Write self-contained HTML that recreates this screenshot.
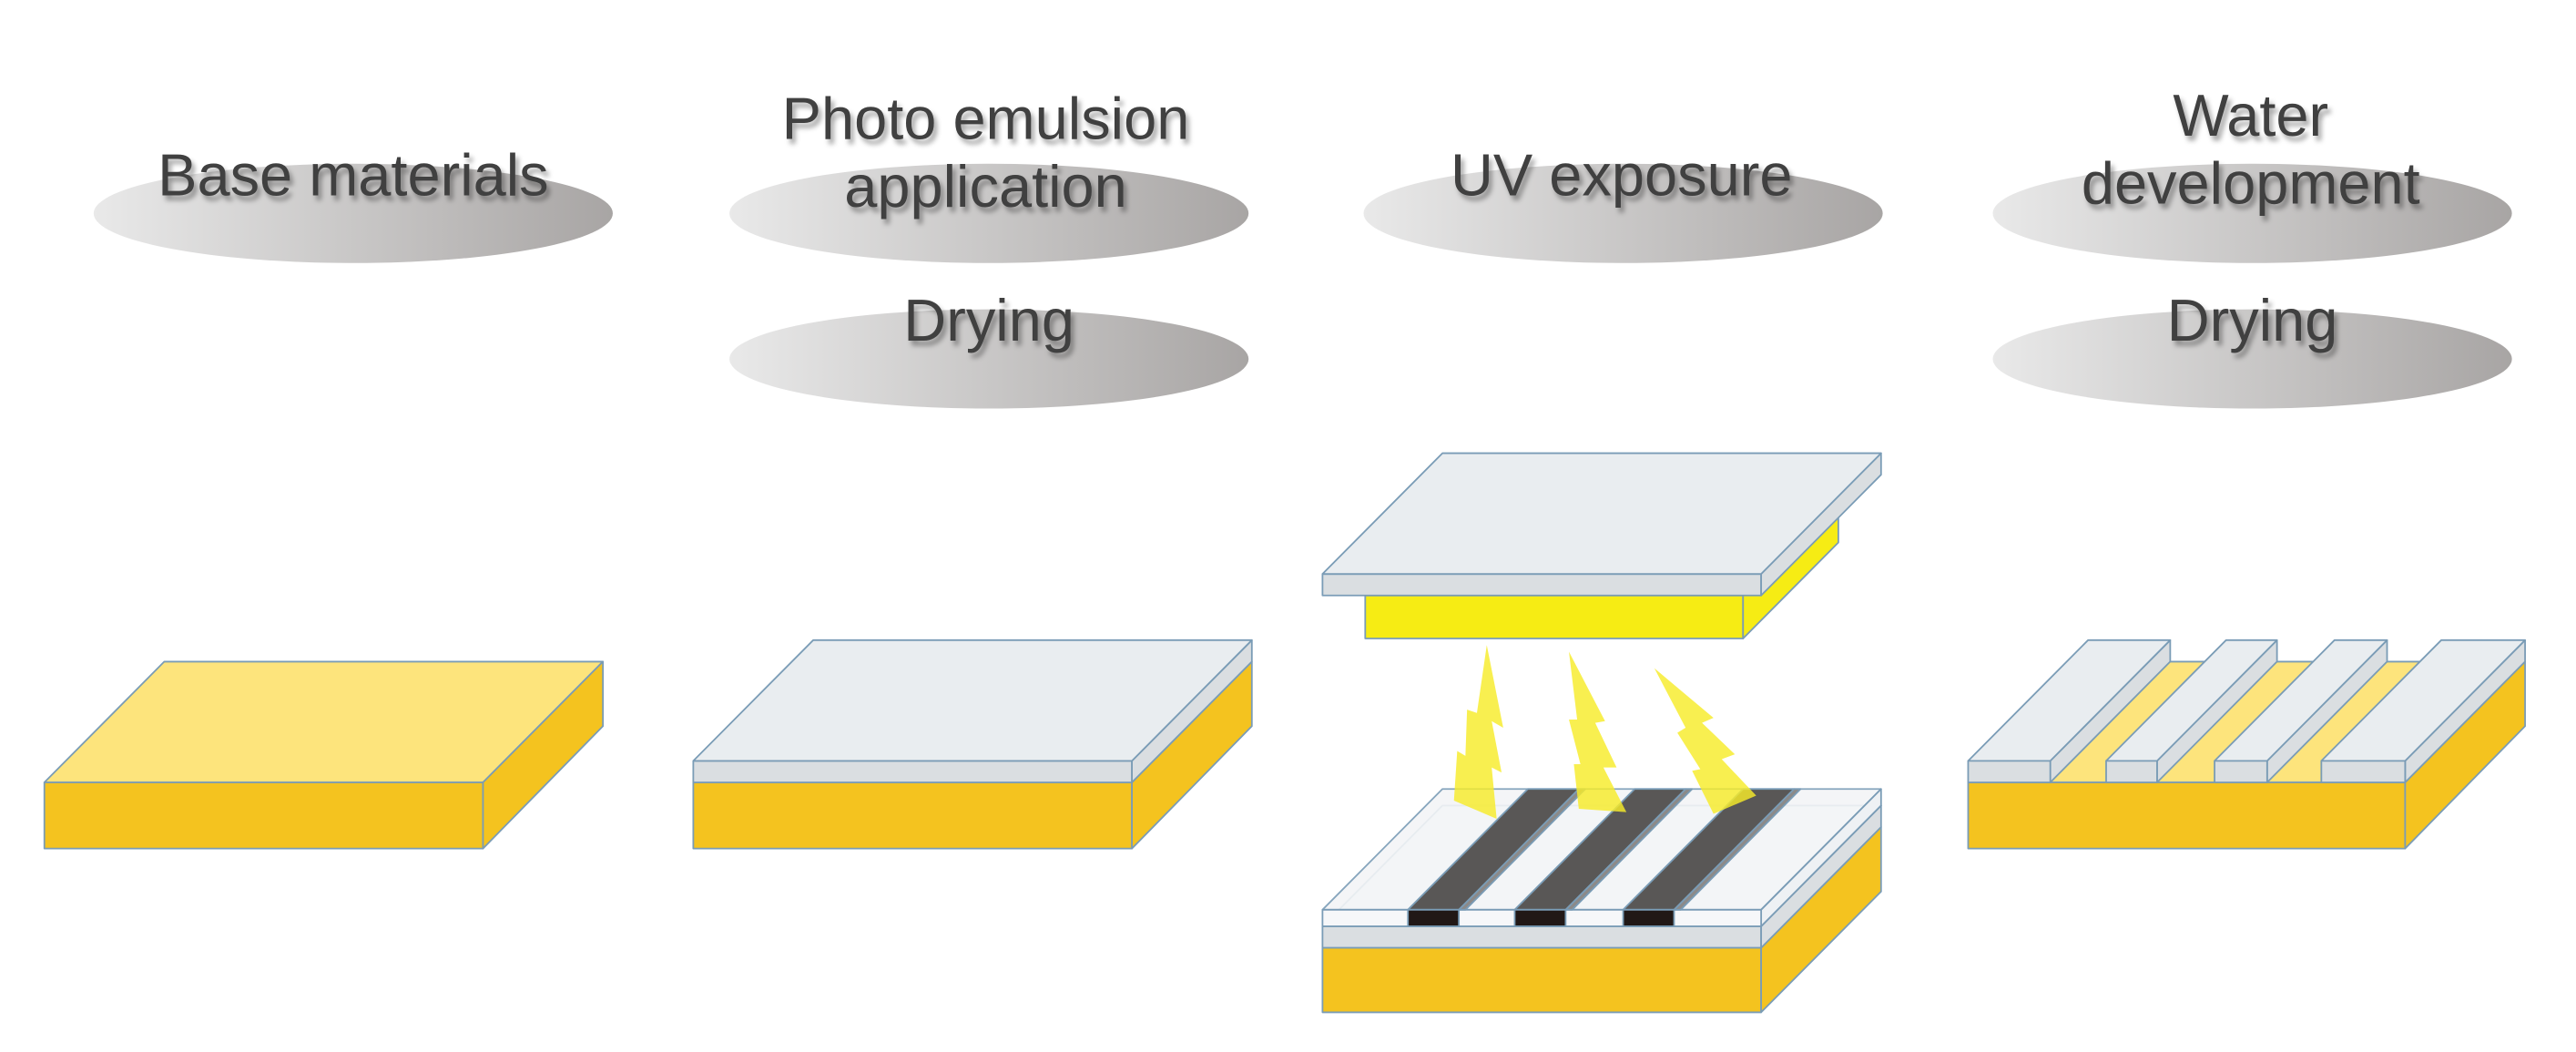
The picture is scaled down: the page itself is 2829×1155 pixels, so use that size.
<!DOCTYPE html>
<html><head><meta charset="utf-8"><style>
html,body{margin:0;padding:0;background:#fff;}
svg{display:block;}
text{font-family:"Liberation Sans",sans-serif;font-size:36px;fill:#3f3f3f;text-anchor:middle;}
</style></head><body>
<svg width="2829" height="1155" viewBox="0 0 1568 636" preserveAspectRatio="none" xmlns="http://www.w3.org/2000/svg">
<defs>
<linearGradient id="eg" x1="0" x2="1" y1="0" y2="0"><stop offset="0" stop-color="#e9e9e9"/><stop offset="1" stop-color="#a8a5a4"/></linearGradient>
<filter id="sh" x="-10%" y="-30%" width="130%" height="160%"><feDropShadow dx="2" dy="3" stdDeviation="1.5" flood-color="#000" flood-opacity="0.35"/></filter>
</defs>
<g fill="url(#eg)">
<ellipse cx="215" cy="129" rx="158" ry="30"/>
<ellipse cx="602" cy="129" rx="158" ry="30"/>
<ellipse cx="602" cy="217" rx="158" ry="30"/>
<ellipse cx="988" cy="129" rx="158" ry="30"/>
<ellipse cx="1371" cy="129" rx="158" ry="30"/>
<ellipse cx="1371" cy="217" rx="158" ry="30"/>
</g>
<g filter="url(#sh)">
<text x="215" y="118">Base materials</text>
<text x="600" y="84">Photo emulsion</text>
<text x="600" y="125">application</text>
<text x="602" y="206">Drying</text>
<text x="987" y="118">UV exposure</text>
<text x="1370" y="82">Water</text>
<text x="1370" y="123">development</text>
<text x="1371" y="206">Drying</text>
</g>
<g transform="translate(0,-2)">
<g stroke="#7a9cb6" stroke-width="1" stroke-linejoin="round">
<polygon points="27,475 100,402 367,402 294,475" fill="#fde47c"/>
<rect x="27" y="475" width="267" height="40" fill="#f4c31f"/>
<polygon points="294,475 367,402 367,441 294,515" fill="#f4c31f"/>
<rect x="422" y="475" width="267" height="40" fill="#f4c31f"/>
<polygon points="689,475 762,402 762,441 689,515" fill="#f4c31f"/>
<rect x="422" y="462" width="267" height="13" fill="#dadee1"/>
<polygon points="689,462 762,389 762,402 689,475" fill="#dadee1"/>
<polygon points="422,462 495,389 762,389 689,462" fill="#e9edf0"/>
<rect x="805" y="575" width="267" height="39" fill="#f4c31f"/>
<polygon points="1072,575 1145,502 1145,541 1072,614" fill="#f4c31f"/>
<rect x="805" y="562" width="267" height="13" fill="#dadee1"/>
<polygon points="1072,562 1145,489 1145,502 1072,575" fill="#dadee1"/>
<polygon points="805,562 878,489 1145,489 1072,562" fill="#f3f5f7"/>
<polygon points="805,552 878,479 1145,479 1072,552" fill="#f3f5f7" opacity="0.9"/>
<polygon points="1072,552 1145,479 1145,489 1072,562" fill="#eef1f4"/>
<rect x="805" y="552" width="267" height="10" fill="#f6f7f9"/>
<polygon points="888,552 961,479 965,479 892,552" fill="#8c8a89"/>
<polygon points="857,552 930,479 961,479 888,552" fill="#595756"/>
<rect x="857" y="552" width="31" height="10" fill="#211816"/>
<polygon points="953,552 1026,479 1030,479 957,552" fill="#8c8a89"/>
<polygon points="922,552 995,479 1026,479 953,552" fill="#595756"/>
<rect x="922" y="552" width="31" height="10" fill="#211816"/>
<polygon points="1019,552 1092,479 1096,479 1023,552" fill="#8c8a89"/>
<polygon points="988,552 1061,479 1092,479 1019,552" fill="#595756"/>
<rect x="988" y="552" width="31" height="10" fill="#211816"/>
<rect x="831" y="362" width="230" height="26" fill="#f6ec14"/>
<polygon points="1061,362 1119,304 1119,330 1061,388" fill="#f6ec14"/>
<rect x="805" y="349" width="267" height="13" fill="#dadee1"/>
<polygon points="1072,349 1145,276 1145,289 1072,362" fill="#dadee1"/>
<polygon points="805,349 878,276 1145,276 1072,349" fill="#e9edf0"/>
<polygon points="1198,475 1271,402 1537,402 1464,475" fill="#fde47c"/>
<rect x="1198" y="475" width="266" height="40" fill="#f4c31f"/>
<polygon points="1464,475 1537,402 1537,441 1464,515" fill="#f4c31f"/>
<polygon points="1248,462 1321,389 1321,402 1248,475" fill="#dadee1"/>
<polygon points="1198,462 1271,389 1321,389 1248,462" fill="#e9edf0"/>
<rect x="1198" y="462" width="50" height="13" fill="#dadee1"/>
<polygon points="1313,462 1386,389 1386,402 1313,475" fill="#dadee1"/>
<polygon points="1282,462 1355,389 1386,389 1313,462" fill="#e9edf0"/>
<rect x="1282" y="462" width="31" height="13" fill="#dadee1"/>
<polygon points="1380,462 1453,389 1453,402 1380,475" fill="#dadee1"/>
<polygon points="1348,462 1421,389 1453,389 1380,462" fill="#e9edf0"/>
<rect x="1348" y="462" width="32" height="13" fill="#dadee1"/>
<polygon points="1464,462 1537,389 1537,402 1464,475" fill="#dadee1"/>
<polygon points="1413,462 1486,389 1537,389 1464,462" fill="#e9edf0"/>
<rect x="1413" y="462" width="51" height="13" fill="#dadee1"/>
</g>
<g fill="#f7ec2a" opacity="0.82">
<polygon points="905,392 915,442 908,438 914,469 908,466 911,497 885,486 887,456 892,459 893,431 899,433"/>
<polygon points="955,396 977,438 971,439 984,466 976,466 990,493 961,491 958,464 962,464 955,437 960,437"/>
<polygon points="1007,406 1043,436 1036,439 1056,458 1048,461 1069,483 1043,494 1030,468 1035,467 1021,445 1026,442"/>
</g>
</g>
</svg>
</body></html>
